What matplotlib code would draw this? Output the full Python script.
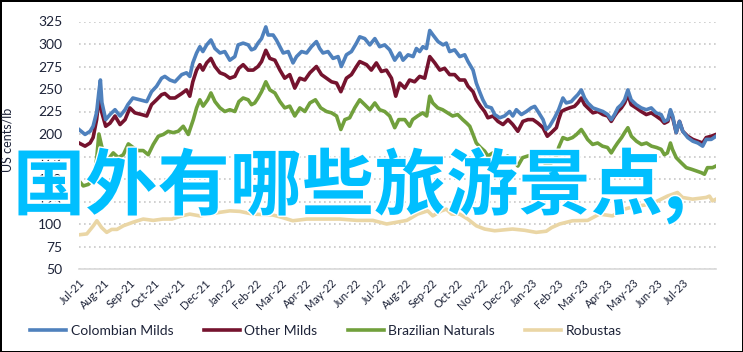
import matplotlib.pyplot as plt
import matplotlib.patheffects as pe

# ---------- data (x = months since Jul-21) ----------
months = ['Jul-21', 'Aug-21', 'Sep-21', 'Oct-21', 'Nov-21', 'Dec-21', 'Jan-22', 'Feb-22',
          'Mar-22', 'Apr-22', 'May-22', 'Jun-22', 'Jul-22', 'Aug-22', 'Sep-22', 'Oct-22',
          'Nov-22', 'Dec-22', 'Jan-23', 'Feb-23', 'Mar-23', 'Apr-23', 'May-23', 'Jun-23', 'Jul-23']

colombian_t = [0, 0.24, 0.44, 0.56, 0.70, 0.79, 0.85, 0.91, 1.06, 1.23, 1.43, 1.63, 1.83, 1.94, 2.14, 2.42,
               2.69, 2.88, 3.08, 3.28, 3.41, 3.61, 3.81, 4.08, 4.27, 4.40, 4.52, 4.67, 4.80, 4.92, 5.07, 5.24,
               5.40, 5.60, 5.79, 5.99, 6.19, 6.32, 6.52, 6.72, 6.85, 6.98, 7.11, 7.25, 7.42, 7.51, 7.71, 7.84,
               7.98, 8.11, 8.31, 8.50, 8.64, 8.84, 9.04, 9.23, 9.43, 9.56, 9.69, 9.89, 10.09, 10.29, 10.42,
               10.62, 10.82, 11.02, 11.15, 11.35, 11.55, 11.75, 11.94, 12.14, 12.34, 12.54, 12.74, 12.87,
               13.07, 13.27, 13.40, 13.53, 13.66, 13.80, 13.93, 14.06, 14.26, 14.46, 14.59, 14.72, 14.92,
               15.12, 15.32, 15.45, 15.65, 15.78, 15.91, 16.04, 16.18, 16.38, 16.51, 16.71, 16.90, 17.10,
               17.23, 17.37, 17.57, 17.77, 17.96, 18.10, 18.23, 18.43, 18.56, 18.69, 18.89, 19.05, 19.22,
               19.35, 19.55, 19.68, 19.81, 19.95, 20.08, 20.21, 20.41, 20.61, 20.81, 21.00, 21.14, 21.27,
               21.40, 21.54, 21.67, 21.80, 21.93, 22.13, 22.33, 22.53, 22.73, 22.92, 23.12, 23.25, 23.39,
               23.49, 23.58, 23.72, 23.85, 23.98, 24.18, 24.38, 24.58, 24.77, 24.91, 25.11, 25.30]
colombian = [205, 199.5, 203, 208.6, 224, 247, 260, 235, 216, 221.6, 227, 220, 227, 232.6, 240, 238,
             236, 247, 253, 262, 264, 260, 258, 266, 268, 264, 279, 290, 297, 291.6, 299, 304.5,
             295, 290, 291.6, 282, 286, 299, 301, 299, 293.5, 295, 301, 306, 319, 310, 310, 304.5,
             297, 290, 291.6, 279, 286, 291.6, 290, 297, 302.7, 295, 290, 291.6, 284, 286, 275,
             288, 291.6, 301, 308, 306, 299, 306, 297, 299, 293.5, 282, 290, 282,
             288, 286, 295, 291.6, 297, 295, 315, 310, 302.7, 299, 301, 291.6, 293.5,
             286, 288, 280.5, 271, 256.6, 247, 238, 230.7, 229, 221.6, 218, 220, 225,
             220, 227, 221.6, 225, 229, 230.7, 225, 216, 205, 208.6, 218, 227, 240,
             234.5, 236, 240, 243.7, 249, 240, 234.5, 229, 227, 225, 221.6, 216, 221.6,
             229, 232.6, 238, 249, 238, 232.6, 229, 227, 229, 223.5, 221.6, 214, 216,
             227, 220, 201.5, 214, 203, 196, 192, 190, 186.5, 194, 194, 197.5]

other_t = [0, 0.24, 0.44, 0.56, 0.70, 0.79, 0.91, 1.06, 1.23, 1.43, 1.63, 1.83, 2.02, 2.22, 2.49, 2.69,
           2.88, 3.08, 3.28, 3.41, 3.61, 3.81, 4.08, 4.27, 4.40, 4.52, 4.67, 4.80, 4.92, 5.07, 5.24, 5.40,
           5.60, 5.79, 5.99, 6.19, 6.35, 6.52, 6.72, 6.92, 7.11, 7.25, 7.42, 7.58, 7.78, 7.98, 8.17, 8.37,
           8.57, 8.77, 8.97, 9.17, 9.43, 9.63, 9.83, 10.03, 10.23, 10.40, 10.62, 10.82, 11.02, 11.15,
           11.42, 11.61, 11.81, 12.01, 12.21, 12.41, 12.58, 12.74, 12.94, 13.13, 13.33, 13.53, 13.73,
           13.93, 14.13, 14.33, 14.52, 14.72, 14.92, 15.12, 15.32, 15.45, 15.65, 15.78, 15.95, 16.11,
           16.24, 16.44, 16.64, 16.84, 17.04, 17.23, 17.43, 17.63, 17.83, 18.03, 18.23, 18.43, 18.60,
           18.76, 18.96, 19.05, 19.16, 19.29, 19.48, 19.68, 19.81, 19.95, 20.08, 20.21, 20.41, 20.61,
           20.81, 21.00, 21.14, 21.27, 21.40, 21.54, 21.67, 21.80, 21.93, 22.13, 22.33, 22.53, 22.73,
           22.92, 23.12, 23.25, 23.39, 23.49, 23.58, 23.72, 23.85, 23.98, 24.18, 24.38, 24.58, 24.77,
           24.91, 25.11, 25.30]
other = [190, 186.5, 190, 196, 216, 240, 223.5, 208.6, 212, 220, 210.5, 216, 229, 223.5, 221.6, 220,
         232.6, 238, 243.7, 245, 240, 240, 245, 249, 242, 258, 271, 277, 271, 279, 284, 275,
         268, 266, 262, 264, 273, 277, 271, 271, 275, 280.5, 293, 284, 282, 271, 262, 266,
         251, 262, 260, 268, 275, 266, 262, 258, 256.6, 247, 262, 266, 275, 280.5,
         277, 271, 279, 269.5, 271, 262, 242, 256.6, 251, 260, 258, 264, 262,
         286, 279, 271, 273, 266, 266, 260, 260, 253, 247, 238, 230.7, 225,
         218, 220, 214, 210.5, 216, 210.5, 203, 214, 216, 216, 212, 207, 197.5,
         201.5, 207, 216, 225, 227, 229, 230.7, 234.5, 240, 232.6, 229, 223.5, 225,
         221.6, 220, 214, 220, 225, 229, 234.5, 243.7, 232.6, 229, 225, 221.6, 223.5,
         220, 216, 212, 214, 225, 218, 201.5, 214, 203, 197.5, 194, 192, 190,
         196, 197.5, 199.5]

brazil_t = [0, 0.17, 0.37, 0.57, 0.70, 0.79, 0.90, 1.03, 1.16, 1.36, 1.56, 1.76, 1.96, 2.15, 2.35, 2.55,
            2.75, 2.95, 3.15, 3.35, 3.54, 3.74, 3.94, 4.14, 4.34, 4.54, 4.67, 4.80, 4.93, 5.11, 5.24, 5.40,
            5.60, 5.79, 5.99, 6.19, 6.35, 6.52, 6.72, 6.85, 6.98, 7.11, 7.25, 7.42, 7.58, 7.78, 7.98, 8.17,
            8.37, 8.57, 8.77, 8.97, 9.17, 9.39, 9.60, 9.83, 10.03, 10.23, 10.40, 10.56, 10.75, 10.95,
            11.15, 11.35, 11.55, 11.75, 11.94, 12.14, 12.34, 12.54, 12.70, 12.94, 13.13, 13.25, 13.45,
            13.65, 13.81, 13.93, 14.05, 14.25, 14.44, 14.64, 14.84, 15.04, 15.24, 15.40, 15.52, 15.65,
            15.78, 15.95, 16.11, 16.24, 16.44, 16.64, 16.83, 17.02, 17.22, 17.43, 17.62, 17.82, 18.02,
            18.21, 18.41, 18.61, 18.77, 18.97, 19.05, 19.22, 19.40, 19.60, 19.76, 19.95, 20.08, 20.20,
            20.40, 20.60, 20.79, 20.99, 21.14, 21.27, 21.39, 21.55, 21.67, 21.80, 21.94, 22.14, 22.34,
            22.54, 22.74, 22.94, 23.12, 23.25, 23.37, 23.49, 23.57, 23.72, 23.92, 24.12, 24.33, 24.51,
            24.72, 24.84, 24.96, 25.16, 25.30]
brazil = [148, 142.3, 144, 149.7, 172, 200, 186.5, 173.7, 172, 179, 173.7, 177, 189, 185, 181.6, 181.6,
          177, 188.4, 197.5, 199.5, 203, 201.5, 203, 208.6, 199.5, 216, 229, 238, 231, 238, 245.6, 236,
          229, 225, 227, 225, 236, 240, 238, 232.6, 234.5, 240, 247, 258, 249, 245.6, 236, 229,
          231, 220, 229, 225, 234.5, 238, 229, 225, 223.5, 220, 205, 216, 218, 229,
          238, 232.6, 227, 234.5, 227, 225, 220, 207, 216, 216, 208.6, 216, 220,
          223.5, 220, 242, 234.5, 229, 227, 223.5, 220, 221.6, 216, 212, 208.6, 199.5,
          190, 185, 181, 175.5, 179, 172, 170, 175.5, 172, 164.4, 173.7, 175.5, 177,
          172, 170, 164.4, 168, 175.5, 185, 196, 194, 196, 199.5, 205, 199.5, 194,
          188.4, 190, 186.5, 185, 179, 185, 190, 196, 201.5, 207, 197.5, 192, 188.4,
          190, 186.5, 185, 183, 177, 179, 190, 183, 173.7, 168, 162.6, 160.8, 159,
          157, 155.3, 162.6, 162.6, 164.4]

robusta_t = [0, 0.31, 0.57, 0.71, 0.90, 1.10, 1.30, 1.51, 1.76, 2.15, 2.55, 2.95, 3.33, 3.69, 4.08, 4.40,
             4.80, 5.20, 5.60, 5.99, 6.39, 6.90, 7.70, 8.10, 8.49, 9.05, 9.68, 10.36, 11.03, 11.67, 12.22,
             12.62, 13.02, 13.45, 13.85, 14.05, 14.39, 14.59, 14.80, 15.12, 15.44, 15.78, 16.11, 16.51,
             17.22, 17.70, 18.16, 18.56, 18.77, 19.09, 19.60, 20.20, 20.67, 21.19, 21.59, 22.13, 22.46,
             22.86, 23.37, 23.77, 23.97, 24.37, 24.91, 25.04, 25.16, 25.30]
robusta = [88, 89, 98, 103.6, 96, 90.7, 94, 94, 98, 102, 105.5, 104, 105.5, 105.5, 109, 111,
           109, 111, 113, 114.6, 114, 111, 110, 107, 103.6, 105.5, 105.5, 105.5, 104, 104, 100,
           102, 104, 111, 114.6, 109, 114.6, 116.5, 111, 111, 105.5, 98, 94.4, 92.5,
           94.4, 93, 90.7, 92, 96, 100, 103.6, 104, 111, 109, 116, 120, 121,
           124, 131, 135, 129.5, 127.6, 129.5, 131, 125.7, 127.6]

series = [
    ('Colombian Milds', colombian_t, colombian, '#4f81bd'),
    ('Other Milds', other_t, other, '#75132e'),
    ('Brazilian Naturals', brazil_t, brazil, '#71a03c'),
    ('Robustas', robusta_t, robusta, '#ead6a5'),
]

# ---------- figure ----------
fig = plt.figure(figsize=(7.43, 3.52), dpi=100)
fig.patch.set_edgecolor('black')
fig.patch.set_linewidth(2)
ax = fig.add_axes([79 / 743, 1 - 269 / 352, (716 - 79) / 743, (269 - 21.5) / 352])

txtcol = '#1d2338'
font = 'Lato'

# draw in reverse so Colombian/Other end up on top
for name, t, v, c in reversed(series):
    ax.plot(t, v, color=c, lw=2.6, label=name, solid_joinstyle='round')

ax.set_xlim(0, 25.3)
ax.set_ylim(50, 325)
ax.set_yticks(range(50, 326, 25))
ax.set_xticks(range(len(months)))
ax.set_xticklabels(months, rotation=45, ha='right', va='top', rotation_mode='anchor',
                   fontsize=8, family=font, color=txtcol)
for lbl in ax.get_yticklabels():
    lbl.set_family(font)
ax.tick_params(axis='y', length=0, pad=12, labelsize=10, labelcolor=txtcol)
ax.tick_params(axis='x', length=0, pad=6)
ax.grid(axis='y', linestyle=(0, (1, 2)), color='#c8c8c8', lw=1.2)
ax.set_axisbelow(True)
for s in ['top', 'right', 'left']:
    ax.spines[s].set_visible(False)
ax.spines['bottom'].set_color('#d9d9d9')
ax.spines['bottom'].set_linewidth(1.2)

fig.text(8 / 743, 1 - 140 / 352, 'US cents/lb', rotation=90, va='center', ha='center',
         fontsize=9, family=font, color=txtcol)

handles, labels = ax.get_legend_handles_labels()
fig.legend(handles[::-1], labels[::-1], loc='center', bbox_to_anchor=(326 / 743, 1 - 331 / 352),
           ncol=4, frameon=False, handlelength=2.6, columnspacing=2.2, handletextpad=0.3,
           prop={'family': font, 'size': 10}, labelcolor=txtcol)

# big overlay caption
fig.text(13 / 743, 1 - 186 / 352, '国外有哪些旅游景点,', fontsize=52, fontweight='bold',
         family=['Noto Sans CJK SC', 'DejaVu Sans'], color='#00bfff', va='center', ha='left',
         path_effects=[pe.withStroke(linewidth=2, foreground='white')])

fig.savefig('out.png', dpi=100)
